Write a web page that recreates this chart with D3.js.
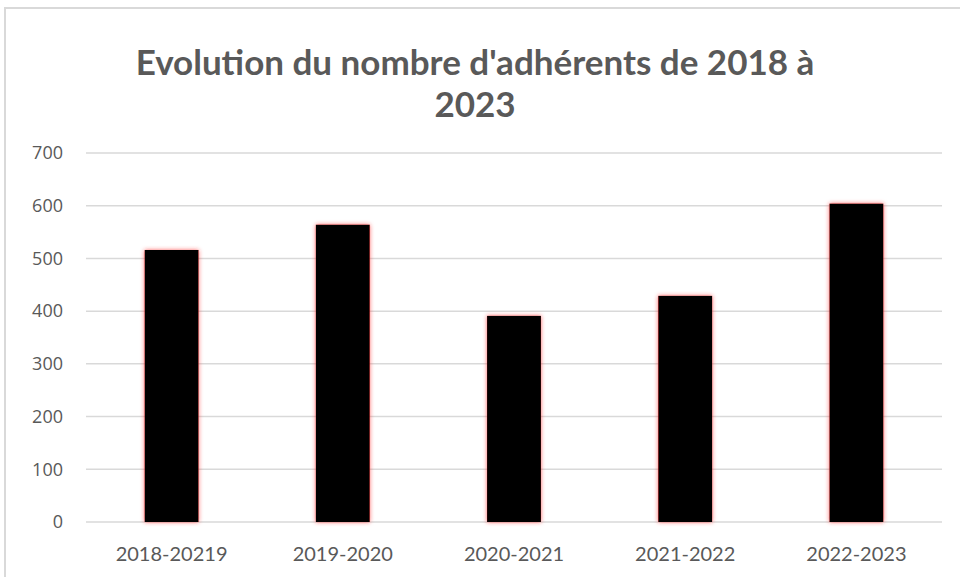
<!DOCTYPE html>
<html>
<head>
<meta charset="utf-8">
<script src="https://d3js.org/d3.v7.min.js"></script>
<style>
  body { margin: 0; background: #ffffff; }
  svg { display: block; }
</style>
</head>
<body>
<script>
// chart values
var seasons = ["2018-20219", "2019-2020", "2020-2021", "2021-2022", "2022-2023"];
var members = [516, 564, 391, 429, 604];
var yTicks = [0, 100, 200, 300, 400, 500, 600, 700];
var titleLines = ["Evolution du nombre d'adhérents de 2018 à", "2023"];

var width = 960, height = 577;
var plotLeft = 86, plotRight = 942, plotTop = 153, plotBottom = 522;

var svg = d3.select("body").append("svg")
  .attr("width", width)
  .attr("height", height);

// soft red edge seen around the bars
var defs = svg.append("defs");
var glow = defs.append("filter").attr("id", "redglow")
  .attr("x", "-20%").attr("y", "-5%").attr("width", "140%").attr("height", "110%");
glow.append("feGaussianBlur").attr("in", "SourceAlpha").attr("stdDeviation", 2.2).attr("result", "blur");
glow.append("feFlood").attr("flood-color", "#ff2a2a").attr("flood-opacity", 0.75);
glow.append("feComposite").attr("in2", "blur").attr("operator", "in").attr("result", "shadow");
var merge = glow.append("feMerge");
merge.append("feMergeNode").attr("in", "shadow");
merge.append("feMergeNode").attr("in", "SourceGraphic");

// chart frame
svg.append("rect")
  .attr("x", 5).attr("y", 8)
  .attr("width", 980).attr("height", 600)
  .attr("fill", "none")
  .attr("stroke", "#d9d9d9")
  .attr("stroke-width", 2);

var x = d3.scaleBand()
  .domain(seasons)
  .range([plotLeft, plotRight])
  .paddingInner(0.685)
  .paddingOuter(0.3425);

var y = d3.scaleLinear()
  .domain([0, 700])
  .range([plotBottom, plotTop]);

// gridlines
svg.append("g").selectAll("line")
  .data(yTicks)
  .enter().append("line")
  .attr("x1", plotLeft).attr("x2", plotRight)
  .attr("y1", function(d) { return y(d); })
  .attr("y2", function(d) { return y(d); })
  .attr("stroke", "#d9d9d9")
  .attr("stroke-width", 1.5);

// y labels
svg.append("g").selectAll("text")
  .data(yTicks)
  .enter().append("text")
  .attr("x", 63)
  .attr("y", function(d) { return y(d); })
  .attr("dy", "0.35em")
  .attr("text-anchor", "end")
  .style("font-family", "'Open Sans', sans-serif")
  .style("font-size", "18px")
  .style("fill", "#595959")
  .text(function(d) { return d; });

// bars
svg.append("g").selectAll("rect")
  .data(members)
  .enter().append("rect")
  .attr("x", function(d, i) { return x(seasons[i]); })
  .attr("y", function(d) { return y(d); })
  .attr("width", x.bandwidth())
  .attr("height", function(d) { return plotBottom - y(d); })
  .attr("fill", "#000000")
  .attr("filter", "url(#redglow)");

// x labels
svg.append("g").selectAll("text")
  .data(seasons)
  .enter().append("text")
  .attr("x", function(d) { return x(d) + x.bandwidth() / 2; })
  .attr("y", 561)
  .attr("text-anchor", "middle")
  .style("font-family", "Lato, sans-serif")
  .style("font-size", "20px")
  .style("fill", "#595959")
  .text(function(d) { return d; });

// title
svg.append("g").selectAll("text")
  .data(titleLines)
  .enter().append("text")
  .attr("x", 475)
  .attr("y", function(d, i) { return 75 + i * 42; })
  .attr("text-anchor", "middle")
  .style("font-family", "Lato, sans-serif")
  .style("font-weight", "bold")
  .style("font-size", "35px")
  .style("fill", "#595959")
  .text(function(d) { return d; });
</script>
</body>
</html>
